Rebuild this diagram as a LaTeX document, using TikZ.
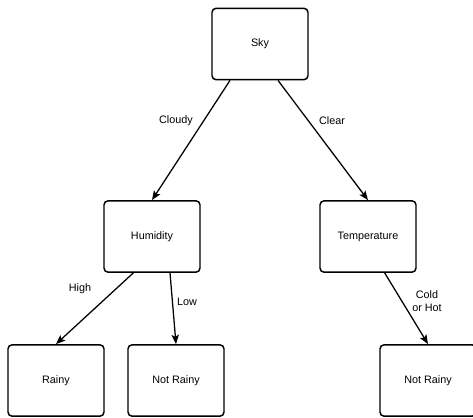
\documentclass[tikz,border=0pt]{standalone}
\usepackage{fontspec}
\setmainfont{Liberation Sans}
\usetikzlibrary{arrows.meta}

\tikzset{
  every picture/.append style={x=0.75pt, y=-0.75pt},
  box/.style={draw, line width=1.1pt, rounded corners=3pt, minimum width=72pt,
    minimum height=53.5pt, inner sep=0pt, font=\fontsize{8.1}{9.7}\selectfont},
  edge/.style={line width=0.95pt, -{Stealth[length=7pt, width=5.5pt, inset=1.5pt]}},
  lbl/.style={font=\fontsize{8.1}{9.7}\selectfont, align=center, inner sep=0pt}
}

\begin{document}
\begin{tikzpicture}
  \useasboundingbox (0,0) rectangle (473,417);
  \clip (0,0) rectangle (473,417);
  % boxes
  \node[box] (sky) at (260,44){Sky};
  \node[box] (humidity) at (152,236.5){Humidity};
  \node[box] (temperature) at (368,236.5){Temperature};
  \node[box] (rainy) at (56,380.5){Rainy};
  \node[box] (notrainya) at (176,380.5){Not Rainy};
  \node[box] (notrainyb) at (428,380.5){Not Rainy};
  % edges
  \draw[edge] ([xshift=-22.5pt]sky.south) -- (humidity.north);
  \draw[edge] ([xshift=13.5pt]sky.south) -- (temperature.north);
  \draw[edge] ([xshift=-14pt]humidity.south) -- (rainy.north);
  \draw[edge] ([xshift=13.5pt]humidity.south) -- (notrainya.north);
  \draw[edge] ([xshift=12.5pt]temperature.south) -- (notrainyb.north);
  % labels
  \node[lbl] (cloudy) at (176,121){Cloudy};
  \node[lbl] (clear) at (332,121){Clear};
  \node[lbl] (high) at (80,289){High};
  \node[lbl] (low) at (187,302){Low};
  \node[lbl] (coldhot) at (427,301){Cold\\or Hot};
\end{tikzpicture}
\end{document}
